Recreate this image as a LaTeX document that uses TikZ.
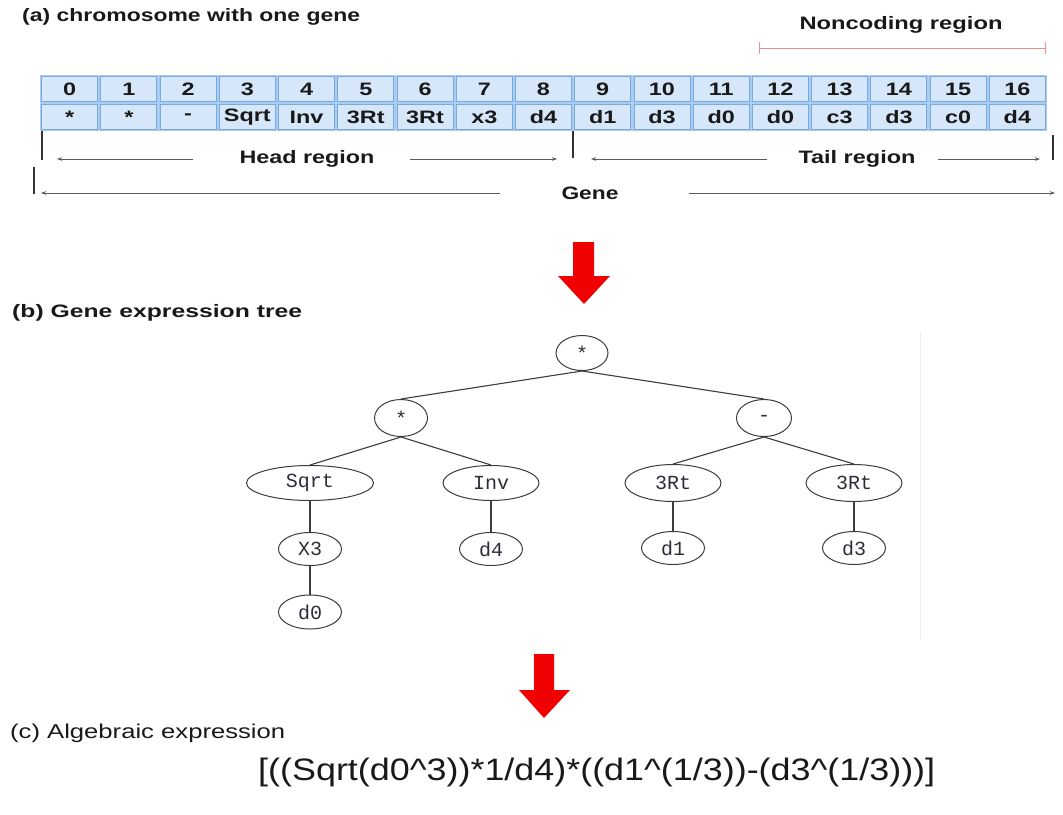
\documentclass[tikz,border=0pt]{standalone}
\usepackage{fontspec}
\usepackage{graphicx}
\setmainfont{Liberation Sans}
\newfontfamily\treefont{Liberation Mono}
\usetikzlibrary{arrows.meta,shapes.geometric}

% text set at a given size and stretched to a given width
\newcommand\widetext[3]{{\fontsize{#2}{#2}\selectfont\resizebox{#1}{\height}{#3}}}
\newcommand\celltxt[1]{\scalebox{1.3}[1]{\fontsize{18pt}{18pt}\selectfont\bfseries #1}}

\definecolor{cellfill}{RGB}{214,231,250}
\definecolor{cellline}{RGB}{120,172,224}
\definecolor{cellgap}{RGB}{170,204,240}
\definecolor{arrowred}{RGB}{240,0,0}
\definecolor{treeline}{RGB}{60,60,60}
\definecolor{treetext}{RGB}{45,45,55}
\definecolor{noncoding}{RGB}{240,140,140}
\definecolor{inktext}{RGB}{25,25,25}

\tikzset{
  cellbox/.style={rectangle, draw=cellline, fill=cellfill, line width=0.9pt,
    minimum width=56pt, minimum height=25pt, inner sep=0pt, text=inktext},
  treenode/.style={ellipse, draw=treeline, line width=1pt, inner sep=0pt,
    text=treetext, font=\treefont\fontsize{20pt}{20pt}\selectfont},
  treeedge/.style={draw=treeline, line width=1.1pt},
  label/.style={inner sep=0pt, text=inktext},
  span/.style={draw=black!65, line width=0.8pt},
  spanarrow/.style={span, -{Stealth[length=5pt,width=3.5pt]}},
  endbar/.style={draw=black!80, line width=1.6pt},
  blockarrow/.style={fill=arrowred}
}

\begin{document}
\begin{tikzpicture}[x=1pt,y=-1pt]
\useasboundingbox (0,0) rectangle (1063,814);

% ---------------- (a) chromosome ----------------
\node[label, anchor=west] (titleA) at (22,17)
  {\widetext{338pt}{18pt}{\bfseries (a) chromosome with one gene}};

% noncoding region marker
\node[label] (noncodingLbl) at (901,25)
  {\widetext{203pt}{18pt}{\bfseries Noncoding region}};
\coordinate (ncL) at (759,48);
\coordinate (ncR) at (1045,48);
\draw[noncoding, line width=1pt] (ncL) -- (ncR);
\draw[noncoding, line width=1pt] ([yshift=-6pt]ncL) -- ([yshift=6pt]ncL);
\draw[noncoding, line width=1pt] ([yshift=-6pt]ncR) -- ([yshift=6pt]ncR);

% gene cells
\fill[cellgap] (40,75) rectangle (1047,131);
\foreach \i/\s in {0/*,1/*,2/-,3/Sqrt,4/Inv,5/3Rt,6/3Rt,7/x3,8/d4,
                   9/d1,10/d3,11/d0,12/d0,13/c3,14/d3,15/c0,16/d4} {
  \pgfmathsetmacro\cx{40+59.235*(\i+0.5)}
  \node[cellbox] (idx\i) at (\cx,89) {\celltxt{\i}};
  \node[cellbox] (sym\i) at (\cx,117) {\celltxt{\s}};
}

% head / tail region spans
\coordinate (headBarT) at (42,131);  \coordinate (headBarB) at (42,160);
\coordinate (midBarT) at (573,131);  \coordinate (midBarB) at (573,158);
\coordinate (tailBarT) at (1053,135); \coordinate (tailBarB) at (1053,160);
\draw[endbar] (headBarT) -- (headBarB);
\draw[endbar] (midBarT) -- (midBarB);
\draw[endbar] (tailBarT) -- (tailBarB);

\node[label] (headLbl) at (307,159) {\widetext{135pt}{18pt}{\bfseries Head region}};
\coordinate (headA) at (57,159);  \coordinate (headA2) at (193,159);
\coordinate (headB) at (557,159); \coordinate (headB2) at (410,159);
\draw[spanarrow] (headA2) -- (headA);
\draw[spanarrow] (headB2) -- (headB);

\node[label] (tailLbl) at (857,159) {\widetext{117pt}{18pt}{\bfseries Tail region}};
\coordinate (tailA) at (591,159);  \coordinate (tailA2) at (767,159);
\coordinate (tailB) at (1040,159); \coordinate (tailB2) at (938,159);
\draw[spanarrow] (tailA2) -- (tailA);
\draw[spanarrow] (tailB2) -- (tailB);

% gene span
\coordinate (geneBarT) at (34,167); \coordinate (geneBarB) at (34,194);
\draw[endbar] (geneBarT) -- (geneBarB);
\node[label] (geneLbl) at (590,193) {\widetext{57pt}{18pt}{\bfseries Gene}};
\coordinate (geneA) at (41,193);   \coordinate (geneA2) at (500,193);
\coordinate (geneB) at (1055,193); \coordinate (geneB2) at (689,193);
\draw[spanarrow] (geneA2) -- (geneA);
\draw[spanarrow] (geneB2) -- (geneB);

% arrow to the tree
\fill[blockarrow] (573,242) -- (594,242) -- (594,276) -- (610,276) -- (584,304)
  -- (558,276) -- (573,276) -- cycle;

% ---------------- (b) expression tree ----------------
\node[label, anchor=west] (titleB) at (12,313)
  {\widetext{290pt}{18pt}{\bfseries (b) Gene expression tree}};

\draw[black!7, line width=0.8pt] (920,332) -- (920,640);

\node[treenode, minimum width=52pt, minimum height=35pt] (root) at (582,353) {*};
\node[treenode, minimum width=53pt, minimum height=37pt] (mulL) at (401,418) {*};
\node[treenode, minimum width=55pt, minimum height=37pt] (sub)  at (764,418) {-};
\node[treenode, minimum width=127pt, minimum height=35pt] (sqrt) at (310,483) {Sqrt};
\node[treenode, minimum width=96pt, minimum height=35pt] (inv)  at (491,483) {Inv};
\node[treenode, minimum width=96pt, minimum height=37pt] (rtL)  at (673,483) {3Rt};
\node[treenode, minimum width=96pt, minimum height=37pt] (rtR)  at (854,483) {3Rt};
\node[treenode, minimum width=63pt, minimum height=33pt] (xthree) at (310,549) {X3};
\node[treenode, minimum width=63pt, minimum height=33pt] (dfour) at (491,549) {d4};
\node[treenode, minimum width=63pt, minimum height=33pt] (done)  at (673,548) {d1};
\node[treenode, minimum width=63pt, minimum height=33pt] (dthree) at (854,548) {d3};
\node[treenode, minimum width=63pt, minimum height=34pt] (dzero) at (310,612) {d0};

\draw[treeedge] (root.south) -- (mulL.north);
\draw[treeedge] (root.south) -- (sub.north);
\draw[treeedge] (mulL.south) -- (sqrt.north);
\draw[treeedge] (mulL.south) -- (inv.north);
\draw[treeedge] (sub.south) -- (rtL.north);
\draw[treeedge] (sub.south) -- (rtR.north);
\draw[treeedge] (sqrt.south) -- (xthree.north);
\draw[treeedge] (xthree.south) -- (dzero.north);
\draw[treeedge] (inv.south) -- (dfour.north);
\draw[treeedge] (rtL.south) -- (done.north);
\draw[treeedge] (rtR.south) -- (dthree.north);

% arrow to the expression
\fill[blockarrow] (534,654) -- (554,654) -- (554,690) -- (570,690) -- (544,718)
  -- (519,690) -- (534,690) -- cycle;

% ---------------- (c) algebraic expression ----------------
\node[label, anchor=west] (titleC) at (10,733)
  {\widetext{275pt}{20pt}{(c) Algebraic expression}};

\node[label, anchor=west] (expr) at (258,772)
  {\widetext{677pt}{31pt}{[((Sqrt(d0\textasciicircum 3))*1/d4)*((d1\textasciicircum (1/3))-(d3\textasciicircum (1/3)))]}};

\end{tikzpicture}
\end{document}
